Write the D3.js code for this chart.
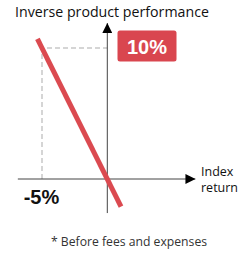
<!DOCTYPE html>
<html lang="en">
<head>
<meta charset="UTF-8">
<title>Inverse product performance</title>
<style>
  body { margin: 0; background: #fff; }
  text { font-family: "Open Sans", sans-serif; }
</style>
</head>
<body>
<svg width="251" height="267"></svg>
<script src="https://cdn.jsdelivr.net/npm/d3@7"></script>
<script>
// chart data
const indexReturn = [-5.35, 1.05];      // index return range shown by the line (%)
const leverage = -2;                    // inverse product multiplier
const productReturn = indexReturn.map(d => d * leverage);
const markIndex = -5;                   // highlighted index return (%)
const markProduct = 10;                 // resulting product return (%)
const xAxisExtent = [-6.85, 6.75];
const yAxisExtent = [-2.6, 11.9];
const titleText = "Inverse product performance";
const xLabel = ["Index", "return"];
const footnote = "* Before fees and expenses";

const svg = d3.select("svg");

const x = d3.scaleLinear().domain([-5, 0]).range([42, 107.3]);
const y = d3.scaleLinear().domain([0, 10]).range([179, 48]);

// arrow marker
svg.append("defs").append("marker")
  .attr("id", "arrow")
  .attr("viewBox", "0 0 10 10")
  .attr("refX", 10).attr("refY", 5)
  .attr("markerWidth", 10).attr("markerHeight", 10)
  .attr("markerUnits", "userSpaceOnUse")
  .attr("orient", "auto")
  .append("path")
  .attr("d", "M0,0 L10,5 L0,10 Z")
  .attr("fill", "#000");

// dashed guides
svg.append("path")
  .attr("d", `M${x(markIndex)},${y(0)} V${y(markProduct)} H${x(0)}`)
  .attr("fill", "none")
  .attr("stroke", "#c8c8c8")
  .attr("stroke-width", 1.5)
  .attr("stroke-dasharray", "5,3");

// axes
svg.append("line")
  .attr("x1", x(xAxisExtent[0])).attr("x2", x(xAxisExtent[1]))
  .attr("y1", y(0)).attr("y2", y(0))
  .attr("stroke", "#444").attr("stroke-width", 1)
  .attr("marker-end", "url(#arrow)");

svg.append("line")
  .attr("x1", x(0)).attr("x2", x(0))
  .attr("y1", y(yAxisExtent[0])).attr("y2", y(yAxisExtent[1]))
  .attr("stroke", "#444").attr("stroke-width", 1)
  .attr("marker-end", "url(#arrow)");

// performance line
svg.append("line")
  .attr("x1", x(indexReturn[0])).attr("y1", y(productReturn[0]))
  .attr("x2", x(indexReturn[1])).attr("y2", y(productReturn[1]))
  .attr("stroke", "#db4a50")
  .attr("stroke-width", 5);

// 10% badge
svg.append("rect")
  .attr("x", 117.5).attr("y", 30.5)
  .attr("width", 59).attr("height", 31)
  .attr("rx", 2.5)
  .attr("fill", "#d9464f");

svg.append("text")
  .attr("x", 147).attr("y", 54)
  .attr("text-anchor", "middle")
  .style("font-family", "'Liberation Sans', Arial, sans-serif")
  .style("font-weight", "bold")
  .style("font-size", "20px")
  .attr("fill", "#fff")
  .text(markProduct + "%");

// -5% label
svg.append("text")
  .attr("x", 41.5).attr("y", 204)
  .attr("text-anchor", "middle")
  .style("font-family", "'Liberation Sans', Arial, sans-serif")
  .style("font-weight", "bold")
  .style("font-size", "20px")
  .attr("fill", "#111")
  .text(markIndex + "%");

// title
svg.append("text")
  .attr("x", 15).attr("y", 17)
  .style("font-size", "14.2px")
  .attr("fill", "#111")
  .text(titleText);

// x axis label
xLabel.forEach((d, i) => {
  svg.append("text")
    .attr("x", 201).attr("y", 175.5 + i * 16.5)
    .style("font-size", "12.5px")
    .attr("fill", "#111")
    .text(d);
});

// footnote
svg.append("text")
  .attr("x", 129).attr("y", 246)
  .attr("text-anchor", "middle")
  .style("font-size", "12.2px")
  .attr("fill", "#333")
  .text(footnote);
</script>
</body>
</html>
